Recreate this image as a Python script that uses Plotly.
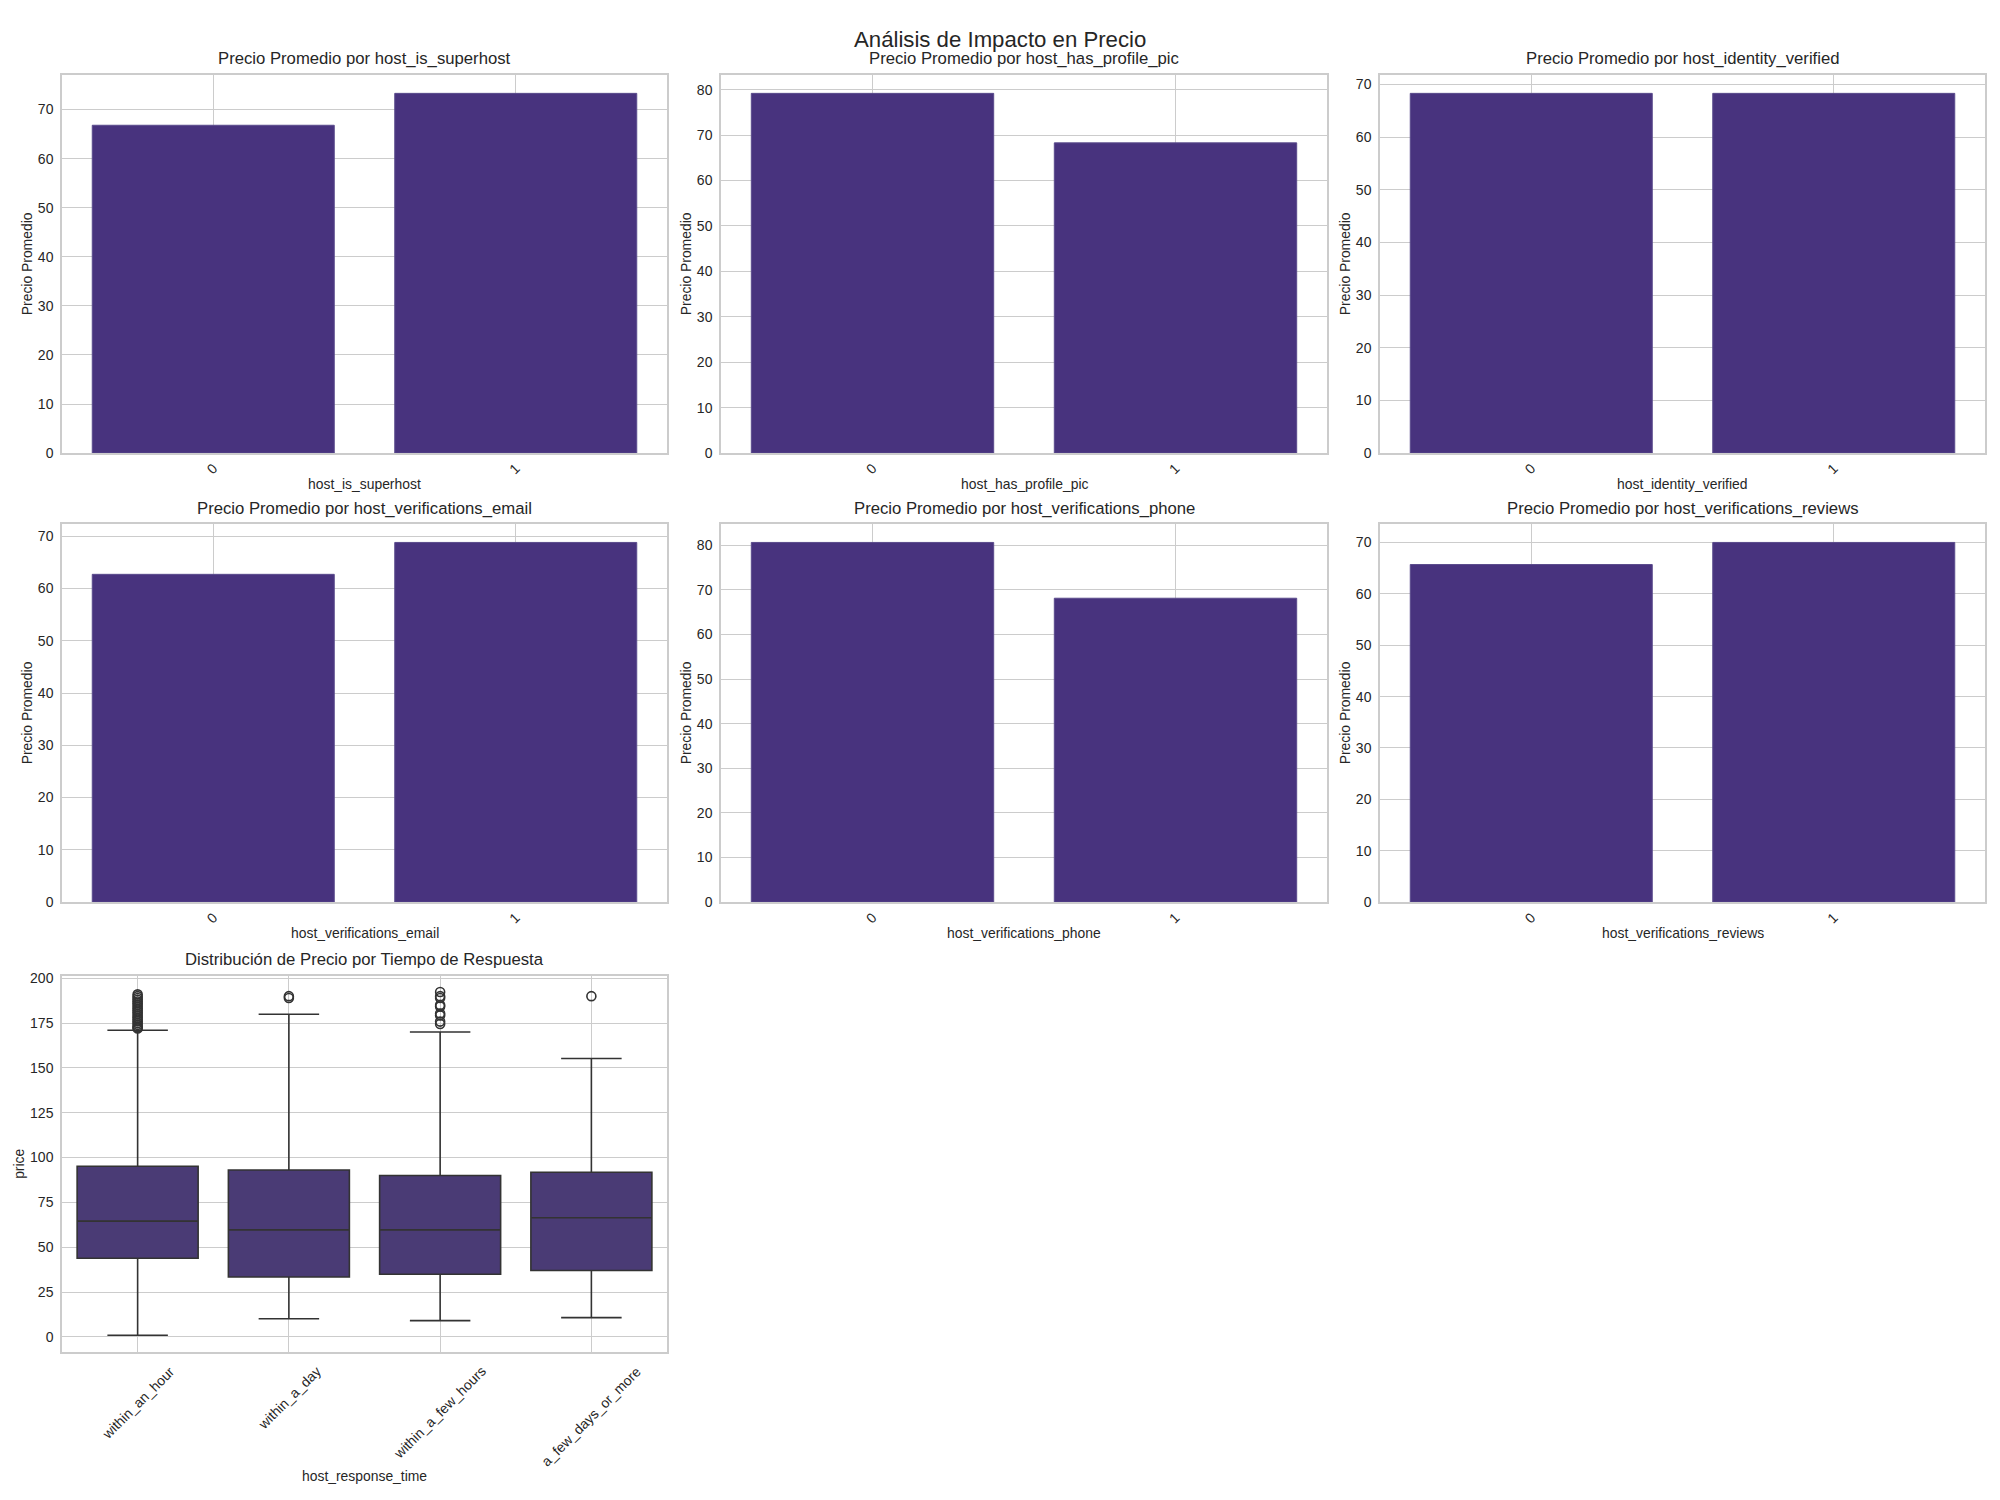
import plotly.graph_objects as go

# ---------------- data ----------------
bar_features = ["host_is_superhost", "host_has_profile_pic", "host_identity_verified",
                "host_verifications_email", "host_verifications_phone", "host_verifications_reviews"]
bar_categories = ["0", "1"]
superhost_vals = [66.8, 73.3]
profile_pic_vals = [79.2, 68.3]
identity_vals = [68.3, 68.3]
email_vals = [62.7, 68.8]
phone_vals = [80.6, 68.1]
reviews_vals = [65.7, 70.0]
bar_values = [superhost_vals, profile_pic_vals, identity_vals, email_vals, phone_vals, reviews_vals]

resp_categories = ["within_an_hour", "within_a_day", "within_a_few_hours", "a_few_days_or_more"]
resp_q1 = [43.9, 33.4, 35.0, 37.1]
resp_median = [64.6, 59.7, 59.7, 66.5]
resp_q3 = [95.2, 93.1, 90.0, 91.8]
resp_lower = [1.0, 10.2, 9.1, 10.8]
resp_upper = [171.0, 179.9, 170.0, 155.2]
out_hour = [172, 172.5, 173, 174, 175, 176, 177, 178, 179, 180, 181, 182, 183, 184, 185,
            186, 187, 188, 189, 190, 191]
out_day = [189, 190]
out_few_hours = [174.5, 175.8, 179.3, 180.3, 184.2, 185, 189, 190, 192.3]
out_few_days = [190]
outliers = [out_hour, out_day, out_few_hours, out_few_days]

# ---------------- layout geometry ----------------
W, H = 2000, 1500
col_px = [(62, 667), (721, 1327), (1380, 1985)]
row_px = [(71, 452), (524, 905), (979, 1359)]

def xd(c):
    return [col_px[c][0] / W, col_px[c][1] / W]

def yd(r):
    return [1 - row_px[r][1] / H, 1 - row_px[r][0] / H]

FONT = "Liberation Sans, Arial, sans-serif"
TXT = "#262626"
GRID = "#cccccc"
BAR_COLOR = "#48337e"
BOX_COLOR = "#4a3b75"

fig = go.Figure()
annotations = []
layout = dict(
    width=W, height=H, margin=dict(l=0, r=0, t=0, b=0),
    paper_bgcolor="white", plot_bgcolor="white", showlegend=False,
    font=dict(family=FONT, color=TXT, size=14),
)

def axis_common():
    return dict(showline=True, mirror=True, linecolor=GRID, linewidth=1.5,
                showgrid=True, gridcolor=GRID, gridwidth=1, zeroline=False,
                ticks="", tickfont=dict(size=14, color=TXT, family=FONT))

for i, (feat, vals) in enumerate(zip(bar_features, bar_values)):
    r, c = divmod(i, 3)
    n = i + 1
    xa = "x" if n == 1 else f"x{n}"
    ya = "y" if n == 1 else f"y{n}"
    fig.add_trace(go.Bar(x=bar_categories, y=vals, xaxis=xa, yaxis=ya, width=0.8,
                         marker=dict(color=BAR_COLOR, line=dict(color="#5a4b8c", width=1))))
    xk = "xaxis" if n == 1 else f"xaxis{n}"
    yk = "yaxis" if n == 1 else f"yaxis{n}"
    ax = axis_common()
    ax.update(domain=xd(c), anchor=ya, type="category", range=[-0.5, 1.5], tickangle=-45)
    ay = axis_common()
    ay.update(domain=yd(r), anchor=xa, range=[0, max(vals) * 1.05], dtick=10,
              ticklabelstandoff=4)
    layout[xk] = ax
    layout[yk] = ay
    cx = (col_px[c][0] + col_px[c][1]) / 2 / W
    # subplot title
    annotations.append(dict(text=f"Precio Promedio por {feat}", xref="paper", yref="paper",
                            x=cx, y=1 - (row_px[r][0] - 5) / H, xanchor="center", yanchor="bottom",
                            showarrow=False, font=dict(size=16.7, color=TXT, family=FONT)))
    # x title
    annotations.append(dict(text=feat, xref="paper", yref="paper", x=cx,
                            y=1 - (row_px[r][1] + 31) / H, xanchor="center", yanchor="middle",
                            showarrow=False, font=dict(size=13.9, color=TXT, family=FONT)))
    # y title
    annotations.append(dict(text="Precio Promedio", xref="paper", yref="paper",
                            x=(col_px[c][0] - 35) / W,
                            y=1 - (row_px[r][0] + row_px[r][1]) / 2 / H, xanchor="center",
                            yanchor="middle", textangle=-90, showarrow=False,
                            font=dict(size=13.9, color=TXT, family=FONT)))

# ---------------- box plot ----------------
fig.add_trace(go.Box(x=resp_categories, q1=resp_q1, median=resp_median, q3=resp_q3,
                     lowerfence=resp_lower, upperfence=resp_upper, xaxis="x7", yaxis="y7",
                     width=0.8, whiskerwidth=0.5, boxpoints=False,
                     fillcolor=BOX_COLOR, line=dict(color="#333333", width=1.6)))
for cat, pts in zip(resp_categories, outliers):
    fig.add_trace(go.Scatter(x=[cat] * len(pts), y=pts, mode="markers", xaxis="x7", yaxis="y7",
                             marker=dict(symbol="circle-open", size=9, color="#333333",
                                         line=dict(width=1.6, color="#333333"))))
ax = axis_common()
ax.update(domain=xd(0), anchor="y7", type="category", range=[-0.5, 3.5],
          categoryorder="array", categoryarray=resp_categories, showticklabels=False)
ay = axis_common()
ay.update(domain=yd(2), anchor="x7", range=[-8.5, 201.5], dtick=25, tick0=0,
          ticklabelstandoff=4)
layout["xaxis7"] = ax
layout["yaxis7"] = ay

for k, cat in enumerate(resp_categories):
    annotations.append(dict(text=cat, xref="x7", yref="paper", x=k, y=1 - 1367 / H,
                            xanchor="center", yanchor="top", textangle=-45, showarrow=False,
                            font=dict(size=13.9, color=TXT, family=FONT)))
cx = (col_px[0][0] + col_px[0][1]) / 2 / W
annotations.append(dict(text="Distribución de Precio por Tiempo de Respuesta", xref="paper",
                        yref="paper", x=cx, y=1 - (row_px[2][0] - 5) / H, xanchor="center",
                        yanchor="bottom", showarrow=False,
                        font=dict(size=16.7, color=TXT, family=FONT)))
annotations.append(dict(text="host_response_time", xref="paper", yref="paper", x=cx,
                        y=1 - 1484 / H, xanchor="center", yanchor="middle", showarrow=False,
                        font=dict(size=13.9, color=TXT, family=FONT)))
annotations.append(dict(text="price", xref="paper", yref="paper", x=19 / W,
                        y=1 - (row_px[2][0] + row_px[2][1]) / 2 / H, xanchor="center",
                        yanchor="middle", textangle=-90, showarrow=False,
                        font=dict(size=13.9, color=TXT, family=FONT)))

# suptitle
annotations.append(dict(text="Análisis de Impacto en Precio", xref="paper", yref="paper",
                        x=0.5, y=1 - 35 / H, xanchor="center", yanchor="middle",
                        showarrow=False, font=dict(size=22.2, color=TXT, family=FONT)))

layout["annotations"] = annotations
fig.update_layout(**layout)
fig.write_html("out.html")
